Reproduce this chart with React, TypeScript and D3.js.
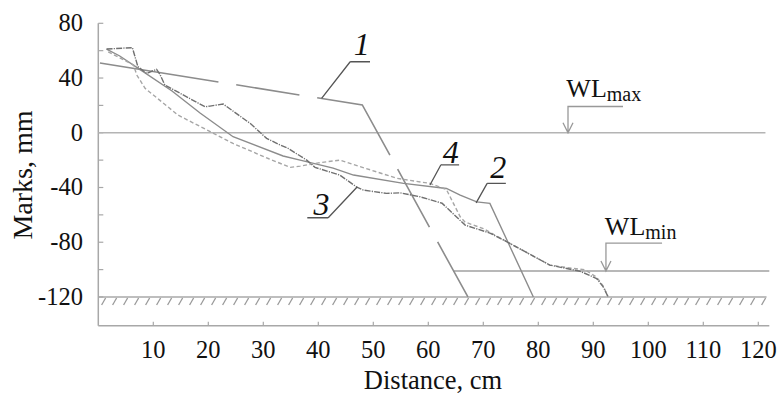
import * as d3 from "d3";

// ---- data (distance in cm, mark in mm) ----
const curve1: [number, number][] = [
  [0.3, 51], [48, 20.3], [67.2, -120],
];
const curve2: [number, number][] = [
  [1.5, 61.2], [3.9, 56.1], [7.2, 47.3], [13.4, 30.5], [18.5, 14.4], [24.5, -2.9],
  [33.6, -17], [36.7, -20], [42.7, -25.8], [46.4, -30.9], [55.5, -37], [63.3, -40.7],
  [65.8, -45.6], [68.8, -50.5], [71.2, -51.6], [79.1, -120],
];
const curve3: [number, number][] = [
  [1.5, 61.2], [6.2, 62.2], [7.2, 48.3], [8.8, 43.4], [10.6, 46.4], [11.2, 42.7],
  [12.1, 34.9], [19.4, 19], [20.3, 19.5], [22.7, 21], [27.6, 6.9], [30.6, -4.1],
  [32.7, -8.3], [34.5, -11.4], [37.9, -20], [39.4, -25.3], [43.9, -30.9], [47, -39.7],
  [48.2, -41.9], [52.4, -44.3], [54.9, -43.9], [58.5, -46.8], [62.5, -51.5],
  [66.7, -67.5], [71.2, -73.3], [74.3, -79.7], [82.1, -96.7], [87.6, -101.2],
  [90.6, -106.5], [91.8, -112.6], [92.7, -120],
];
const curve4: [number, number][] = [
  [1.8, 59.2], [6.4, 49.5], [7, 42.2], [8.5, 32.5], [14.5, 12.9], [24.5, -7.8],
  [31, -19], [34.9, -25.3], [36.7, -24.4], [40, -22], [43.9, -20], [54.3, -33.3],
  [60.3, -37], [63.3, -41.5], [65.8, -61.4], [66.7, -65.3], [70, -70], [74.3, -79.7],
  [82.1, -96.7], [86, -99], [88.5, -100.2], [90.6, -105.5], [91.8, -112], [92.7, -120],
];

const WL_MAX = 0;
const WL_MIN = -101;
const GROUND = -120;

const xTicks = [10, 20, 30, 40, 50, 60, 70, 80, 90, 100, 110, 120];
const yTicks = [80, 60, 40, 20, 0, -20, -40, -60, -80, -100, -120];
const yLabels = [80, 40, 0, -40, -80, -120];

// curve number callouts, in data units
const callouts = [
  { t: "1", tx: 47.9, ty: 56.8, u0: 45.8, u1: 49.4, uy: 51.9, ex: 40.6, ey: 25.1, from: "left" },
  { t: "4", tx: 64.1, ty: -22.1, u0: 62.3, u1: 65.6, uy: -23.4, ex: 60.3, ey: -38.2, from: "left" },
  { t: "2", tx: 72.7, ty: -33.1, u0: 70.7, u1: 74.1, uy: -37, ex: 68.7, ey: -51.2, from: "left" },
  { t: "3", tx: 40.6, ty: -60.2, u0: 38, u1: 41.8, uy: -62.1, ex: 47.1, ey: -39.5, from: "right" },
];

const W = 782;
const H = 399;
const FONT = "Liberation Serif, Times New Roman, Times, serif";

export default function App() {
  const x = d3.scaleLinear().domain([0, 122]).range([98.3, 769.3]);
  const y = d3.scaleLinear().domain([-141, 80]).range([325.7, 23.3]);
  const line = d3.line<[number, number]>().x((d) => x(d[0])).y((d) => y(d[1]));

  const axisCol = "#a8a8a8";
  const lineCol = "#8c8c8c";

  // hatch marks under the ground line
  const hatch = d3.range(x(0.6), x(121.5), 11);

  const wlMaxX = 85.4;
  const wlMinX = 92.3;

  return (
    <svg width={W} height={H} style={{ position: "absolute", left: 0, top: 0, background: "#fff" }}>
      {/* axes */}
      <line x1={x(0)} x2={x(0)} y1={y(80)} y2={y(-141)} stroke={axisCol} strokeWidth={1.5} />
      <line x1={x(0)} x2={x(122)} y1={y(-141)} y2={y(-141)} stroke={axisCol} strokeWidth={1.5} />
      {yTicks.map((t) => (
        <line key={"yt" + t} x1={x(0)} x2={x(0) + 5} y1={y(t)} y2={y(t)} stroke={axisCol} strokeWidth={1.2} />
      ))}
      {xTicks.map((t) => (
        <line key={"xt" + t} x1={x(t)} x2={x(t)} y1={y(-141)} y2={y(-141) - 4} stroke={axisCol} strokeWidth={1.2} />
      ))}
      {yLabels.map((t) => (
        <text key={"yl" + t} x={83} y={y(t) + 8} textAnchor="end" fontFamily={FONT} fontSize={24.5} fill="#111">
          {t}
        </text>
      ))}
      {xTicks.map((t) => (
        <text key={"xl" + t} x={x(t)} y={358} textAnchor="middle" fontFamily={FONT} fontSize={24.5} fill="#111">
          {t}
        </text>
      ))}
      <text x={433} y={389} textAnchor="middle" fontFamily={FONT} fontSize={26.5} fill="#111">
        Distance, cm
      </text>
      <text
        transform={`translate(32,175) rotate(-90)`}
        textAnchor="middle"
        fontFamily={FONT}
        fontSize={28}
        fill="#111"
      >
        Marks, mm
      </text>

      {/* ground line with hatching */}
      <line x1={x(0)} x2={x(121.5)} y1={y(GROUND)} y2={y(GROUND)} stroke={axisCol} strokeWidth={1.5} />
      {hatch.map((hx, i) => (
        <line key={"h" + i} x1={hx + 4} x2={hx} y1={y(GROUND) + 1} y2={y(GROUND) + 8} stroke="#999" strokeWidth={1.3} />
      ))}

      {/* water levels */}
      <line x1={x(0)} x2={x(121.3)} y1={y(WL_MAX)} y2={y(WL_MAX)} stroke="#b4b4b4" strokeWidth={1.5} />
      <line x1={x(64.5)} x2={x(122)} y1={y(WL_MIN)} y2={y(WL_MIN)} stroke="#a0a0a0" strokeWidth={1.5} />

      {/* WLmax callout */}
      <path
        d={`M${x(wlMaxX + 10)},${y(19.2)}H${x(wlMaxX)}V${y(WL_MAX)}M${x(wlMaxX) - 5},${y(WL_MAX) - 10}L${x(wlMaxX)},${y(WL_MAX)}L${x(wlMaxX) + 5},${y(WL_MAX) - 10}`}
        fill="none"
        stroke="#999"
        strokeWidth={1.3}
      />
      <text x={x(85.1)} y={y(25.9)} fontFamily={FONT} fontSize={26} fill="#111">
        WL<tspan fontSize={20} dy={4}>max</tspan>
      </text>

      {/* WLmin callout */}
      <path
        d={`M${x(wlMinX + 10.2)},${y(-80.6)}H${x(wlMinX)}V${y(WL_MIN)}M${x(wlMinX) - 5},${y(WL_MIN) - 10}L${x(wlMinX)},${y(WL_MIN)}L${x(wlMinX) + 5},${y(WL_MIN) - 10}`}
        fill="none"
        stroke="#999"
        strokeWidth={1.3}
      />
      <text x={x(92.1)} y={y(-74.8)} fontFamily={FONT} fontSize={26} fill="#111">
        WL<tspan fontSize={20} dy={4}>min</tspan>
      </text>

      {/* profiles */}
      <path d={line(curve1) ?? ""} fill="none" stroke={lineCol} strokeWidth={1.6} strokeDasharray="120,18,64,18,103,16,66,17,80" />
      <path d={line(curve2) ?? ""} fill="none" stroke={lineCol} strokeWidth={1.4} />
      <path d={line(curve4) ?? ""} fill="none" stroke="#a6a6a6" strokeWidth={1.4} strokeDasharray="4,2.5" />
      <path d={line(curve3) ?? ""} fill="none" stroke="#707070" strokeWidth={1.4} strokeDasharray="6,1.2,1.2,1.2" />

      {/* curve numbers */}
      {callouts.map((c) => (
        <g key={"c" + c.t}>
          <path
            d={`M${x(c.u1)},${y(c.uy)}H${x(c.u0)}M${x(c.from === "left" ? c.u0 : c.u1)},${y(c.uy)}L${x(c.ex)},${y(c.ey)}`}
            fill="none"
            stroke="#555"
            strokeWidth={1.3}
          />
          <text x={x(c.tx)} y={y(c.ty)} textAnchor="middle" fontFamily={FONT} fontStyle="italic" fontSize={32} fill="#111">
            {c.t}
          </text>
        </g>
      ))}
    </svg>
  );
}
